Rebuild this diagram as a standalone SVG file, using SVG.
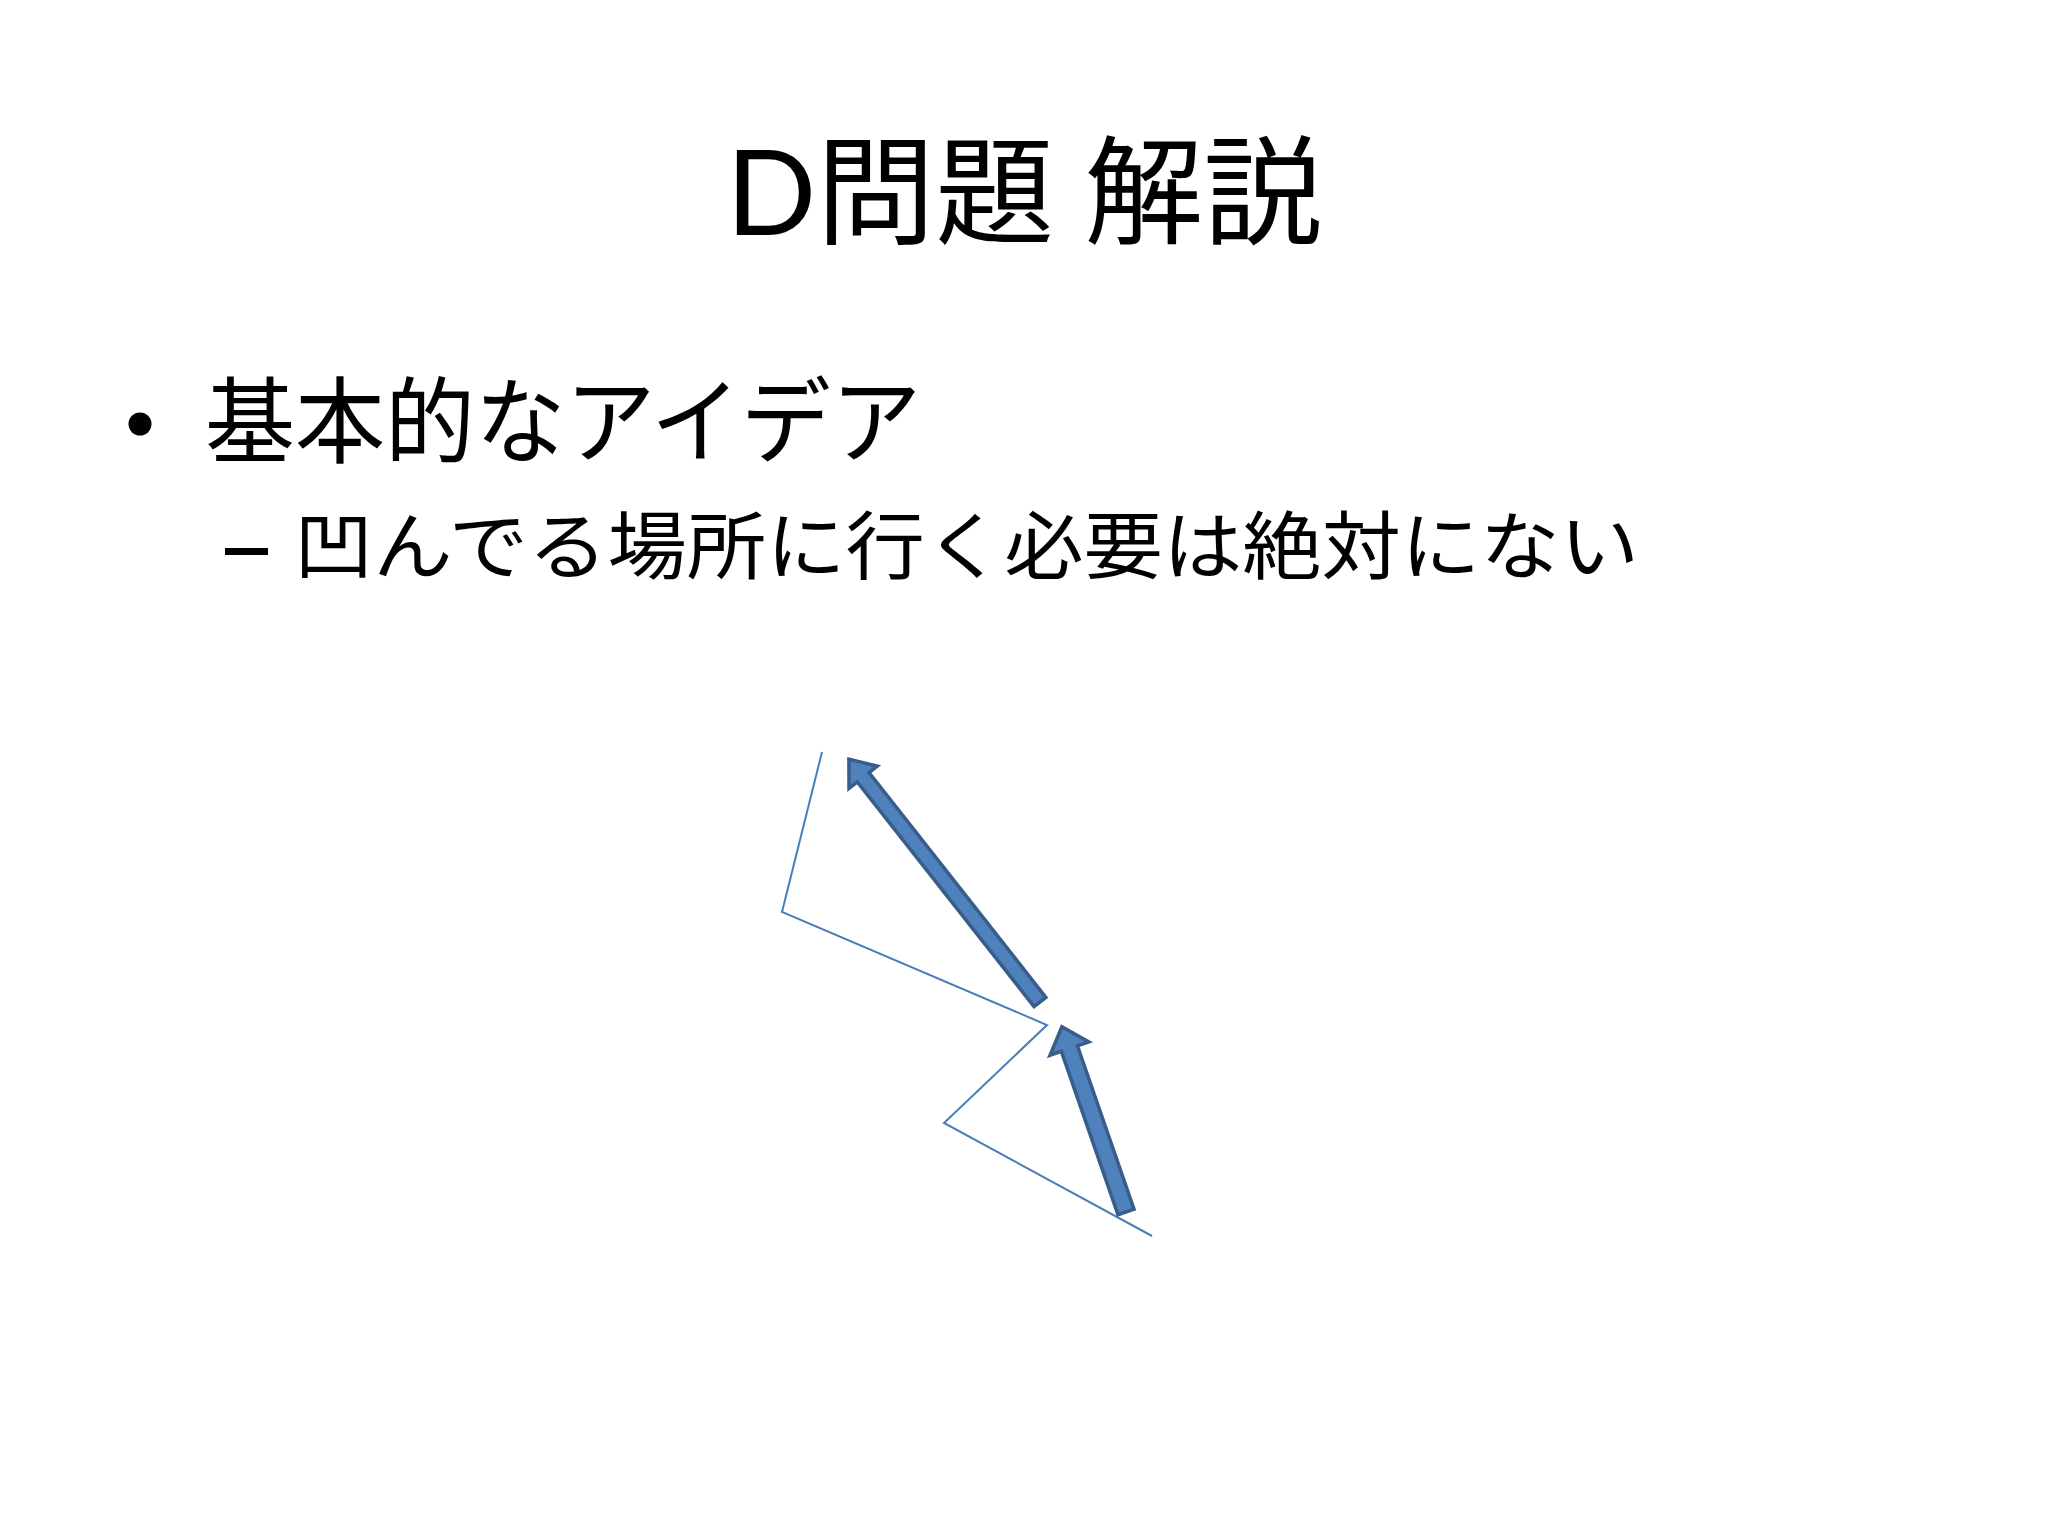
<svg xmlns="http://www.w3.org/2000/svg" width="2048" height="1536" viewBox="0 0 2048 1536">
<style>
.t{font-family:"Noto Sans CJK JP",sans-serif;fill:#000}
.ti{font-family:Lato,"Noto Sans CJK JP",sans-serif;fill:#000}
.path{fill:none;stroke:#4a7ebb;stroke-width:2;stroke-linejoin:miter}
.arr{fill:#4f81bd;stroke:#385d8a;stroke-width:3.5;stroke-linejoin:miter}
</style>
<rect width="2048" height="1536" fill="#ffffff"/>
<g id="title">
<text class="ti" x="726" y="235" font-size="118" textLength="596" lengthAdjust="spacingAndGlyphs">D問題 解説</text>
</g>
<g id="bullet1">
<circle cx="140" cy="424" r="11.5" fill="#000"/>
<text class="t" x="205" y="456" font-size="94" textLength="716" lengthAdjust="spacingAndGlyphs">基本的なアイデア</text>
</g>
<g id="bullet2">
<rect x="225" y="548" width="43" height="7" fill="#000"/>
<text class="t" x="294" y="573" font-size="74" textLength="1345" lengthAdjust="spacingAndGlyphs">凹んでる場所に行く必要は絶対にない</text>
</g>
<g id="terrain">
<polyline class="path" points="822,752 782,912 1047,1025 944,1123 1152,1236"/>
</g>
<g id="connectors">
<g id="arrow1" transform="translate(1040,1002) rotate(-128.2)">
<polygon class="arr" points="0,-7.5 286,-7.5 286,-18 309,0 286,18 286,7.5 0,7.5"/>
</g>
<g id="arrow2" transform="translate(1126,1212) rotate(-109.1)">
<polygon class="arr" points="0,-8.5 173,-8.5 173,-20.5 196,0 173,20.5 173,8.5 0,8.5"/>
</g>
</g>
</svg>
